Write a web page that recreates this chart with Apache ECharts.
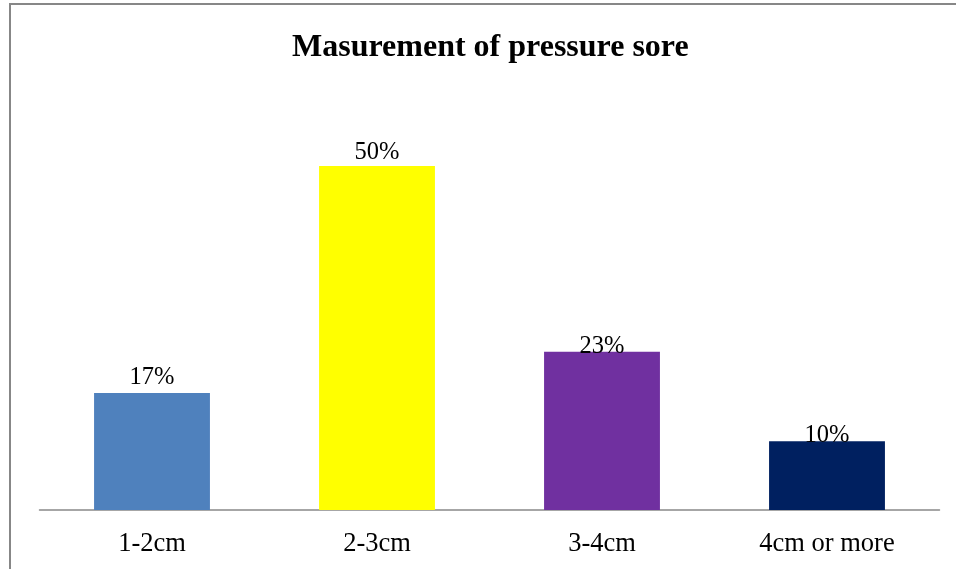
<!DOCTYPE html>
<html>
<head>
<meta charset="utf-8">
<style>
  html, body { margin: 0; padding: 0; background: #ffffff; }
  #chart { width: 956px; height: 569px; }
</style>
<script src="https://cdn.jsdelivr.net/npm/echarts@6/dist/echarts.min.js"></script>
</head>
<body>
<div id="chart"></div>
<script>
// Wound size groups and the share of patients in each
const categories = ['1-2cm', '2-3cm', '3-4cm', '4cm or more'];
const percentages = [17, 50, 23, 10];
const barColors = ['#4F81BD', '#FFFF00', '#7030A0', '#002060'];
// gap between each value label and the top of its bar
const labelGaps = [3, 1, -7, -7];

const chart = echarts.init(document.getElementById('chart'));
const serif = '"Liberation Serif", "Times New Roman", serif';

chart.setOption({
  backgroundColor: '#ffffff',
  animation: false,
  title: {
    text: 'Masurement of pressure sore',
    left: 287,
    top: 27,
    textStyle: { fontFamily: serif, fontSize: 32, fontWeight: 'bold', color: '#000000' }
  },
  graphic: [{
    type: 'rect',
    shape: { x: 10, y: 4, width: 980, height: 600 },
    style: { fill: 'none', stroke: '#878787', lineWidth: 2 },
    silent: true,
    z: 100
  }],
  grid: { left: 39.5, right: 16.5, top: 97.2, bottom: 59 },
  xAxis: {
    type: 'category',
    data: categories,
    axisLine: { lineStyle: { color: '#898989', width: 1.5 } },
    axisTick: { show: false },
    axisLabel: { fontFamily: serif, fontSize: 26.5, color: '#000000', margin: 21 }
  },
  yAxis: {
    type: 'value',
    min: 0,
    max: 60,
    show: false,
    splitLine: { show: false }
  },
  series: [{
    type: 'bar',
    barWidth: '51.5%',
    data: percentages.map((v, i) => ({
      value: v,
      itemStyle: { color: barColors[i] },
      label: { distance: labelGaps[i] }
    })),
    label: {
      show: true,
      position: 'top',
      formatter: p => p.value + '%',
      fontFamily: serif,
      fontSize: 24.5,
      color: '#000000'
    }
  }]
});
</script>
</body>
</html>
